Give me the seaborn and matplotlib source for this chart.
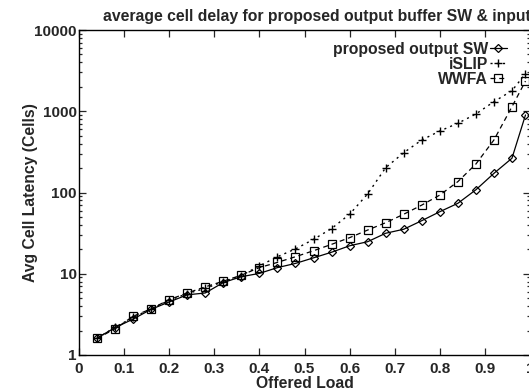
import numpy as np
import pandas as pd
import seaborn as sns
import matplotlib
matplotlib.use("Agg")
import matplotlib.pyplot as plt
from matplotlib.ticker import LogLocator, NullFormatter, FixedLocator

# offered load values (x) shared by all three switch designs
load = [0.04, 0.08, 0.12, 0.16, 0.20, 0.24, 0.28, 0.32, 0.36, 0.40,
        0.44, 0.48, 0.52, 0.56, 0.60, 0.64, 0.68, 0.72, 0.76, 0.80,
        0.84, 0.88, 0.92, 0.96, 0.99]

proposed_sw = [1.62, 2.17, 2.77, 3.65, 4.5, 5.5, 5.8, 7.8, 9.2, 10.1,
               11.9, 13.4, 15.7, 18.4, 22.1, 24.8, 31.5, 35.3, 45, 58,
               73.6, 108, 172, 264, 900]
islip = [1.6, 2.2, 2.9, 3.7, 4.7, 5.7, 6.6, 8.0, 9.5, 12.5,
         16.2, 20.2, 26.5, 36, 54, 96, 202, 309, 443, 571,
         711, 925, 1312, 1790, 2900]
wwfa = [1.6, 2.1, 3.0, 3.7, 4.8, 5.8, 6.9, 8.1, 9.6, 11.9,
        13.8, 16.2, 19.2, 23, 27.8, 34.5, 42.5, 54, 70, 93,
        136, 224, 443, 1137, 2350]

labels = ["proposed output SW", "iSLIP", "WWFA"]
title = "average cell delay for proposed output buffer SW & input buffer SW"

sns.set_style("ticks")
plt.rcParams["font.family"] = ["Liberation Sans", "DejaVu Sans"]
plt.rcParams["font.weight"] = "bold"

fig = plt.figure(figsize=(5.29, 3.9), dpi=100)
ax = fig.add_axes([79 / 529, 35 / 390, 451 / 529, 325 / 390])

df = pd.DataFrame({"load": load, "proposed": proposed_sw, "islip": islip, "wwfa": wwfa})

sns.lineplot(data=df, x="load", y="proposed", ax=ax, color="black", linewidth=0.9,
             linestyle="-", marker="D", markersize=4, markerfacecolor="none",
             markeredgecolor="black", markeredgewidth=0.9, label=labels[0])
sns.lineplot(data=df, x="load", y="islip", ax=ax, color="black", linewidth=1.0,
             linestyle=(0, (1.5, 3)), marker="+", markersize=6,
             markeredgecolor="black", markeredgewidth=1.0, label=labels[1])
sns.lineplot(data=df, x="load", y="wwfa", ax=ax, color="black", linewidth=0.9,
             linestyle=(0, (4, 3)), marker="s", markersize=5.5, markerfacecolor="none",
             markeredgecolor="black", markeredgewidth=0.9, label=labels[2])

ax.set_yscale("log")
ax.set_ylim(1, 10000)
ax.set_xlim(0, 1)
ax.xaxis.set_major_locator(FixedLocator(np.arange(0, 1.01, 0.1)))
ax.set_xticklabels(["0", "0.1", "0.2", "0.3", "0.4", "0.5", "0.6", "0.7", "0.8", "0.9", "1"])
ax.yaxis.set_major_locator(FixedLocator([1, 10, 100, 1000, 10000]))
ax.set_yticklabels(["1", "10", "100", "1000", "10000"])
ax.yaxis.set_minor_locator(LogLocator(base=10, subs=np.arange(2, 10), numticks=20))
ax.yaxis.set_minor_formatter(NullFormatter())

ax.tick_params(axis="both", which="both", direction="in", top=True, right=True,
               labelsize=11, width=0.9)
ax.tick_params(axis="x", which="major", length=5, pad=5)
ax.tick_params(axis="y", which="major", length=5, pad=1.5)
ax.tick_params(axis="y", which="minor", length=2.5)
for lbl in ax.get_xticklabels() + ax.get_yticklabels():
    lbl.set_fontweight("bold")
for sp in ax.spines.values():
    sp.set_linewidth(1.0)
    sp.set_color("black")

ax.set_xlabel("Offered Load", fontsize=11.3, fontweight="bold", labelpad=0)
ax.set_ylabel("Avg Cell Latency (Cells)", fontsize=11.3, fontweight="bold")
ax.yaxis.set_label_coords(-0.092, 0.5)

fig.text(103 / 529, 1 - 16 / 390, title, fontsize=11.3, fontweight="bold",
         ha="left", va="center")

leg = ax.legend(loc="upper right", bbox_to_anchor=(0.973, 0.997), frameon=False,
                markerfirst=False, fontsize=11.3, handlelength=1.1,
                handletextpad=0.1, labelspacing=0.0, borderpad=0.2)
for t in leg.get_texts():
    t.set_fontweight("bold")

fig.savefig("out.png", dpi=100)
